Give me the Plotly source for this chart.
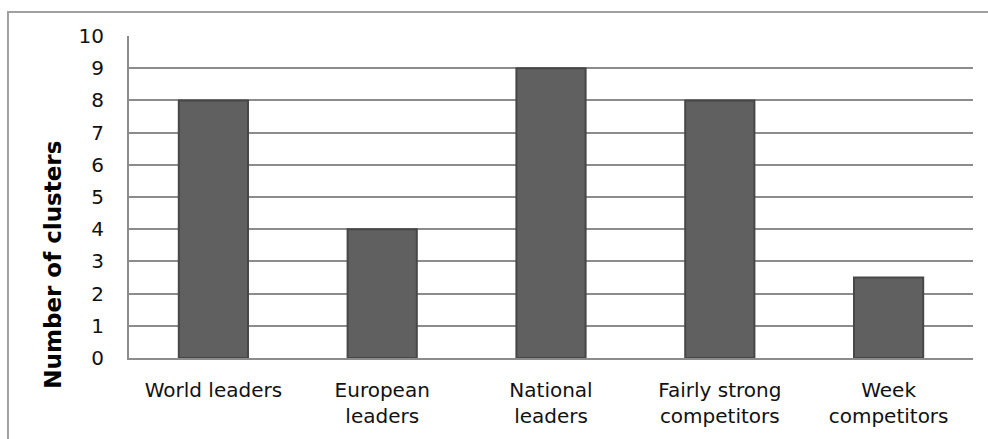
import plotly.graph_objects as go

categories = ["World leaders", "European<br>leaders", "National<br>leaders",
              "Fairly strong<br>competitors", "Week<br>competitors"]
values = [8, 4, 9, 8, 2.5]
y_ticks = list(range(0, 11))

FONT = "DejaVu Sans, sans-serif"

fig = go.Figure()
fig.add_trace(go.Bar(
    x=categories, y=values,
    width=0.41,
    marker=dict(color="#606060", line=dict(color="#474747", width=2)),
    showlegend=False, hoverinfo="x+y",
))

fig.update_layout(
    width=988, height=439,
    margin=dict(l=129, r=15, t=36, b=81),
    paper_bgcolor="white", plot_bgcolor="white",
    font=dict(family=FONT, size=18, color="#111111"),
    xaxis=dict(
        showgrid=False, showline=True, linecolor="#8c8c8c", linewidth=2,
        ticks="", tickfont=dict(size=20), ticklabelstandoff=13,
        automargin=False,
    ),
    yaxis=dict(
        range=[0, 10], tickvals=y_ticks, showgrid=True,
        gridcolor="#8c8c8c", gridwidth=2, zeroline=False,
        showline=True, linecolor="#8c8c8c", linewidth=2,
        ticks="", tickfont=dict(size=20), ticklabelstandoff=19,
        automargin=False,
    ),
    annotations=[dict(text="<b>Number of clusters</b>", textangle=-90,
                      xref="paper", yref="paper", x=-0.09, y=0.29,
                      xanchor="center", yanchor="middle", showarrow=False,
                      font=dict(family=FONT, size=23, color="#000000"))],
    shapes=[dict(type="rect", xref="paper", yref="paper",
                 x0=-0.1434, x1=1.03, y0=-0.3, y1=1.0745,
                 line=dict(color="#a0a0a0", width=2), layer="below")],
)

fig.write_html("out.html")
